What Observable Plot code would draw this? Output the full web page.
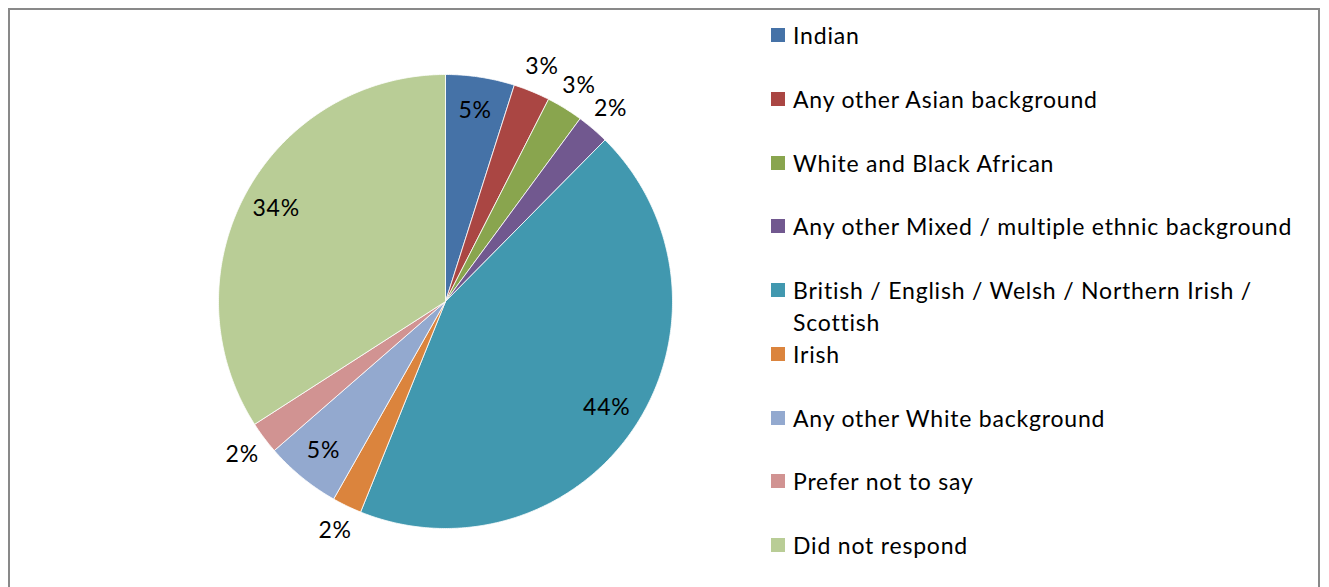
<!DOCTYPE html>
<html>
<head>
<meta charset="utf-8">
<script src="https://cdn.jsdelivr.net/npm/d3@7"></script>
<script src="https://cdn.jsdelivr.net/npm/@observablehq/plot@0.6"></script>
<style>
  html, body { margin: 0; padding: 0; background: #fff; overflow: hidden; }
  #wrap { position: relative; width: 1329px; height: 587px; font-family: Lato, "Open Sans", sans-serif; }
  #chart { position: absolute; left: 0; top: 0; }
  #frame { position: absolute; left: 8px; top: 8px; width: 1312px; height: 640px; border: 2px solid #898989; box-sizing: border-box; pointer-events: none; }
  #legend { position: absolute; left: 771px; top: 19px; width: 545px; }
  .row { position: absolute; left: 0; display: flex; align-items: flex-start; font-size: 23px; letter-spacing: 0.8px; line-height: 32px; color: #000; }
  .sw { width: 14px; height: 14px; margin-top: 9px; margin-right: 8px; flex: none; }
  .lbl { width: 515px; }
</style>
</head>
<body>
<div id="wrap">
  <div id="chart"></div>
  <div id="legend"></div>
  <div id="frame"></div>
</div>
<script>
const categories = [
  "Indian",
  "Any other Asian background",
  "White and Black African",
  "Any other Mixed / multiple ethnic background",
  "British / English / Welsh / Northern Irish / Scottish",
  "Irish",
  "Any other White background",
  "Prefer not to say",
  "Did not respond"
];
const values = [4.9, 2.6, 2.6, 2.3, 43.7, 2.1, 5.4, 2.3, 34.1];
const labels = ["5%", "3%", "3%", "2%", "44%", "2%", "5%", "2%", "34%"];
const colors = ["#4572A7", "#AA4643", "#89A54E", "#71588F", "#4198AF", "#DB843D", "#93A9CF", "#D19392", "#B9CD96"];

const total = d3.sum(values);
const slices = [];
let acc = 0;
categories.forEach((c, i) => {
  const a0 = acc / total * 2 * Math.PI;
  acc += values[i];
  const a1 = acc / total * 2 * Math.PI;
  slices.push({category: c, value: values[i], label: labels[i], a0, a1});
});

// polygon points for each slice (unit radius, angle clockwise from top)
const pts = [];
for (const s of slices) {
  pts.push({category: s.category, x: 0, y: 0});
  const n = Math.max(4, Math.ceil((s.a1 - s.a0) / (Math.PI / 360)));
  for (let k = 0; k <= n; k++) {
    const a = s.a0 + (s.a1 - s.a0) * k / n;
    pts.push({category: s.category, x: Math.sin(a), y: Math.cos(a)});
  }
  pts.push({category: s.category, x: 0, y: 0});
}

// label positions: inside for large slices, outside for small
const lab = slices.map(s => {
  const m = (s.a0 + s.a1) / 2;
  const r = s.value >= 4 ? 0.85 : 1.12;
  return {text: s.label, x: r * Math.sin(m), y: r * Math.cos(m)};
});

const plot = Plot.plot({
  width: 1329,
  height: 587,
  margin: 0,
  style: {fontFamily: "Lato, 'Open Sans', sans-serif", background: "transparent", letterSpacing: "0.8px"},
  x: {domain: [-1, 1], range: [218, 672], axis: null},
  y: {domain: [-1, 1], range: [528, 74], axis: null},
  color: {domain: categories, range: colors},
  marks: [
    Plot.line(pts, {x: "x", y: "y", z: "category", fill: "category", stroke: "#fff", strokeWidth: 1, strokeOpacity: 0.8, curve: "linear"}),
    Plot.text(lab, {x: "x", y: "y", text: "text", fontSize: 23, fill: "#000"})
  ]
});
document.getElementById("chart").appendChild(plot);

const legend = document.getElementById("legend");
categories.forEach((c, i) => {
  const row = document.createElement("div");
  row.className = "row";
  row.style.top = (i * 63.75) + "px";
  const sw = document.createElement("div");
  sw.className = "sw";
  sw.style.background = colors[i];
  const t = document.createElement("div");
  t.className = "lbl";
  t.textContent = c;
  row.appendChild(sw);
  row.appendChild(t);
  legend.appendChild(row);
});
</script>
</body>
</html>
